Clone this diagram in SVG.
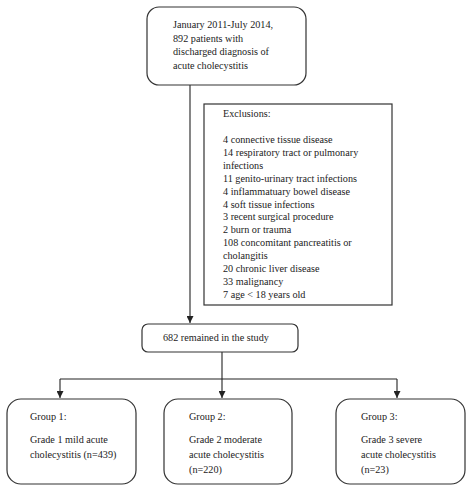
<svg xmlns="http://www.w3.org/2000/svg" width="471" height="495" viewBox="0 0 471 495">
<style>
.box{fill:#fff;stroke:#333;stroke-width:1.2}
.t{font-family:"Liberation Serif","Times New Roman",serif;font-size:10.2px;fill:#222}
.c{fill:none;stroke:#222;stroke-width:1.1}
</style>
<defs>
<marker id="ah" viewBox="0 0 10 10" refX="10" refY="5" markerWidth="7" markerHeight="7" markerUnits="userSpaceOnUse" orient="auto">
<path d="M0,0 L10,5 L0,10 z" fill="#222"/>
</marker>
</defs>
<rect width="471" height="495" fill="#fff"/>
<g id="connectors">
<path class="c" d="M190,85 V323" marker-end="url(#ah)"/>
<path class="c" d="M222,352 V398" marker-end="url(#ah)"/>
<path class="c" d="M60,379 H397"/>
<path class="c" d="M60,379 V398" marker-end="url(#ah)"/>
<path class="c" d="M397,379 V398" marker-end="url(#ah)"/>
</g>
<g id="start">
<rect class="box" x="147" y="7" width="159" height="78" rx="12"/>
<text class="t" x="173" y="28">January 2011-July 2014,</text>
<text class="t" x="173" y="41.5">892 patients with</text>
<text class="t" x="173" y="55">discharged diagnosis of</text>
<text class="t" x="173" y="68.5">acute cholecystitis</text>
</g>
<g id="exclusions">
<rect class="box" x="204" y="104" width="188" height="201"/>
<text class="t" x="223" y="117">Exclusions:</text>
<text class="t" x="223" y="143">4 connective tissue disease</text>
<text class="t" x="223" y="155.9">14 respiratory tract or pulmonary</text>
<text class="t" x="223" y="168.8">infections</text>
<text class="t" x="223" y="181.7">11 genito-urinary tract infections</text>
<text class="t" x="223" y="194.6">4 inflammatuary bowel disease</text>
<text class="t" x="223" y="207.5">4 soft tissue infections</text>
<text class="t" x="223" y="220.4">3 recent surgical procedure</text>
<text class="t" x="223" y="233.3">2 burn or trauma</text>
<text class="t" x="223" y="246.2">108 concomitant pancreatitis or</text>
<text class="t" x="223" y="259.1">cholangitis</text>
<text class="t" x="223" y="272">20 chronic liver disease</text>
<text class="t" x="223" y="284.9">33 malignancy</text>
<text class="t" x="223" y="297.8">7 age &lt; 18 years old</text>
</g>
<g id="remained">
<rect class="box" x="142" y="324" width="156" height="28" rx="6"/>
<text class="t" x="163" y="341">682 remained in the study</text>
</g>
<g id="group1">
<rect class="box" x="7" y="399" width="129" height="85" rx="14"/>
<text class="t" x="30" y="420">Group 1:</text>
<text class="t" x="30" y="443">Grade 1 mild acute</text>
<text class="t" x="30" y="458">cholecystitis (n=439)</text>
</g>
<g id="group2">
<rect class="box" x="164" y="399" width="128" height="85" rx="14"/>
<text class="t" x="189" y="420">Group 2:</text>
<text class="t" x="189" y="443">Grade 2 moderate</text>
<text class="t" x="189" y="458">acute cholecystitis</text>
<text class="t" x="189" y="473">(n=220)</text>
</g>
<g id="group3">
<rect class="box" x="336" y="399" width="129" height="85" rx="14"/>
<text class="t" x="361" y="420">Group 3:</text>
<text class="t" x="361" y="443">Grade 3 severe</text>
<text class="t" x="361" y="458">acute cholecystitis</text>
<text class="t" x="361" y="473">(n=23)</text>
</g>
</svg>
